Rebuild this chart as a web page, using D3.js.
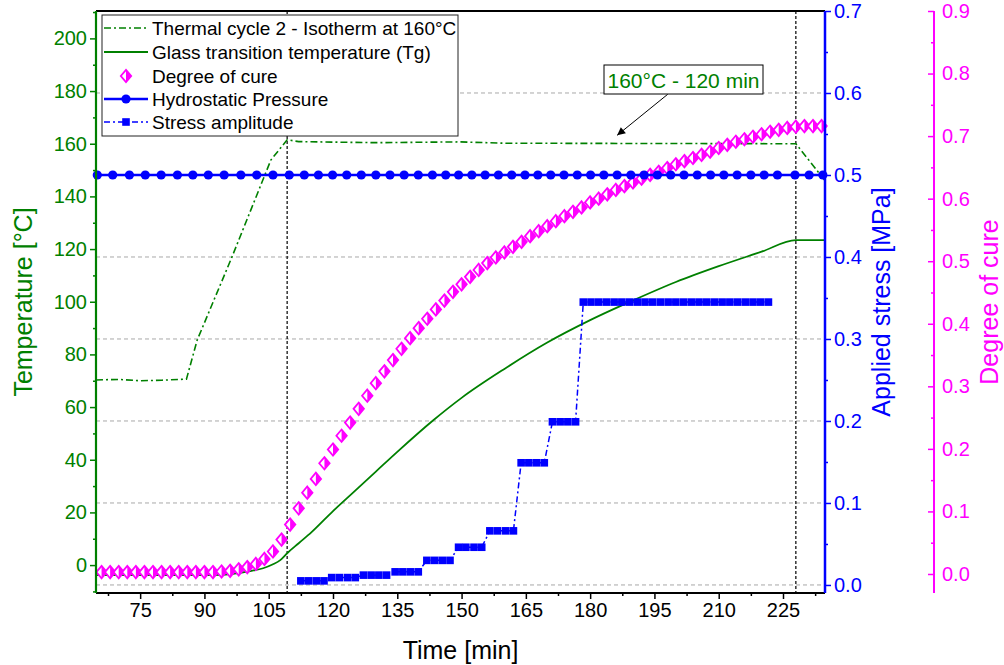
<!DOCTYPE html>
<html><head><meta charset="utf-8">
<script src="https://cdn.jsdelivr.net/npm/d3@7"></script>
<style>
body{margin:0;background:#fff;}
svg{display:block;font-family:"Liberation Sans",Arial,sans-serif;}
</style></head>
<body><svg id="c" width="1004" height="665"></svg>
<script>
// ---------- DATA ----------
const timeTicks = [75, 90, 105, 120, 135, 150, 165, 180, 195, 210, 225];
const tempTicks = [0, 20, 40, 60, 80, 100, 120, 140, 160, 180, 200];
const stressTicks = [0.0, 0.1, 0.2, 0.3, 0.4, 0.5, 0.6, 0.7];
const cureTicks = [0.0, 0.1, 0.2, 0.3, 0.4, 0.5, 0.6, 0.7, 0.8, 0.9];

const thermalTime = [64.7, 70, 75, 80, 85.8, 88.3, 96.4, 105.5, 109.3, 112, 130, 149.6, 160, 190, 228, 234.8];
const thermalTemp = [70.3, 70.5, 70.0, 70.2, 70.6, 85.4, 116.9, 153.8, 161.5, 160.8, 160.4, 160.7, 160.2, 160.1, 160.0, 146];

const tgTime = [64.7, 80, 90, 95, 98, 101, 103.7, 106, 107.7, 109.3, 112, 115, 120, 125, 130, 135, 143.4, 150, 160, 170, 180, 190, 200, 210, 220, 228, 234.8];
const tgTemp = [-3.8, -3.8, -3.8, -3.6, -3.0, -2.2, -1.2, 0.3, 1.9, 4.5, 8.3, 12.5, 20.5, 28, 35.5, 43, 55, 63.5, 74.5, 84.5, 93, 100.5, 107.5, 113.5, 119, 123.4, 123.4];

const cureTime = [66, 68, 70, 72, 74, 76, 78, 80, 82, 84, 86, 88, 90, 92, 94, 96, 98, 100, 102, 104, 106, 108, 110, 112, 114, 116, 118, 120, 122, 124, 126, 128, 130, 132, 134, 136, 138, 140, 142, 144, 146, 148, 150, 152, 154, 156, 158, 160, 162, 164, 166, 168, 170, 172, 174, 176, 178, 180, 182, 184, 186, 188, 190, 192, 194, 196, 198, 200, 202, 204, 206, 208, 210, 212, 214, 216, 218, 220, 222, 224, 226, 228, 230, 232, 234];
const cureValue = [0.003, 0.003, 0.003, 0.003, 0.003, 0.003, 0.003, 0.003, 0.003, 0.003, 0.003, 0.003, 0.003, 0.003, 0.004, 0.005, 0.0075, 0.011, 0.016, 0.024, 0.036, 0.055, 0.079, 0.105, 0.130, 0.152, 0.177, 0.199, 0.221, 0.242, 0.264, 0.285, 0.305, 0.324, 0.342, 0.360, 0.377, 0.393, 0.408, 0.423, 0.437, 0.451, 0.463, 0.475, 0.486, 0.497, 0.506, 0.514, 0.523, 0.531, 0.540, 0.548, 0.556, 0.564, 0.572, 0.579, 0.586, 0.594, 0.600, 0.607, 0.614, 0.620, 0.626, 0.632, 0.638, 0.643, 0.649, 0.655, 0.660, 0.665, 0.670, 0.675, 0.681, 0.686, 0.691, 0.695, 0.699, 0.703, 0.707, 0.710, 0.713, 0.715, 0.716, 0.716, 0.716];

const hydroTime = [65.0, 68.6, 72.5, 76.2, 79.9, 83.7, 87.3, 90.9, 94.6, 98.5, 102.2, 106.0, 109.8, 113.3, 116.6, 119.9, 123.2, 126.6, 130.0, 133.3, 136.6, 139.9, 143.2, 146.3, 149.3, 152.4, 155.5, 158.6, 161.7, 164.8, 167.8, 170.8, 173.9, 177.0, 180.1, 183.2, 186.3, 189.5, 192.6, 195.7, 198.8, 201.9, 205.0, 208.1, 211.2, 214.3, 217.5, 220.6, 223.7, 227.8, 231.1, 234.3];
const hydroValue = [0.5, 0.5, 0.5, 0.5, 0.5, 0.5, 0.5, 0.5, 0.5, 0.5, 0.5, 0.5, 0.5, 0.5, 0.5, 0.5, 0.5, 0.5, 0.5, 0.5, 0.5, 0.5, 0.5, 0.5, 0.5, 0.5, 0.5, 0.5, 0.5, 0.5, 0.5, 0.5, 0.5, 0.5, 0.5, 0.5, 0.5, 0.5, 0.5, 0.5, 0.5, 0.5, 0.5, 0.5, 0.5, 0.5, 0.5, 0.5, 0.5, 0.5, 0.5, 0.5];

const stressTime = [112.5, 114.3, 116.1, 117.9, 119.7, 121.5, 123.4, 125.2, 127.1, 128.9, 130.7, 132.5, 134.5, 136.3, 138.1, 139.9, 141.9, 143.7, 145.5, 147.3, 149.3, 151.0, 152.9, 154.7, 156.6, 158.4, 160.3, 162.1, 163.9, 165.7, 167.5, 169.3, 171.2, 173.0, 174.8, 176.6, 178.4, 180.2, 182.0, 183.8, 185.6, 187.4, 189.2, 191.0, 192.8, 194.6, 196.4, 198.2, 200.0, 201.8, 203.6, 205.4, 207.2, 209.0, 210.8, 212.6, 214.4, 216.2, 218.0, 219.8, 221.6];
const stressValue = [0.005, 0.005, 0.005, 0.005, 0.009, 0.009, 0.009, 0.009, 0.012, 0.012, 0.012, 0.012, 0.016, 0.016, 0.016, 0.016, 0.030, 0.030, 0.030, 0.030, 0.046, 0.046, 0.046, 0.046, 0.066, 0.066, 0.066, 0.066, 0.149, 0.149, 0.149, 0.149, 0.199, 0.199, 0.199, 0.199, 0.345, 0.345, 0.345, 0.345, 0.345, 0.345, 0.345, 0.345, 0.345, 0.345, 0.345, 0.345, 0.345, 0.345, 0.345, 0.345, 0.345, 0.345, 0.345, 0.345, 0.345, 0.345, 0.345, 0.345, 0.345];

const markerTimes = [109.3, 228.0];
const legendLabels = ["Thermal cycle 2 - Isotherm at 160°C", "Glass transition temperature (Tg)", "Degree of cure", "Hydrostatic Pressure", "Stress amplitude"];
const annotationText = "160°C - 120 min";
const annotationTarget = [186.3, 163.2]; // time, temperature the arrow points to

// ---------- LAYOUT ----------
const L = 96, R = 825, T = 11, B = 593;
const GREEN = "#008000", BLUE = "#0000ff", MAG = "#ff00ff";
const svg = d3.select("#c");

const x = d3.scaleLinear().domain([64.7, 234.8]).range([L, R]);
const yT = d3.scaleLinear().domain([-10.6, 210.4]).range([B, T]);
const yS = d3.scaleLinear().domain([-0.0098, 0.7]).range([B, T]);
const yC = d3.scaleLinear().domain([-0.0304, 0.9]).range([B, T]);

// gridlines (at applied stress major ticks)
svg.append("g").selectAll("line").data(stressTicks.filter(d => d < 0.65)).join("line")
  .attr("x1", L).attr("x2", R).attr("y1", d => yS(d)).attr("y2", d => yS(d))
  .attr("stroke", "#a8a8a8").attr("stroke-width", 1).attr("stroke-dasharray", "4,3");

// vertical markers
svg.append("g").selectAll("line").data(markerTimes).join("line")
  .attr("x1", d => x(d)).attr("x2", d => x(d)).attr("y1", T).attr("y2", B)
  .attr("stroke", "#000").attr("stroke-width", 1.2).attr("stroke-dasharray", "3,2");

// thermal cycle
const thermal = thermalTime.map((t, i) => [t, thermalTemp[i]]);
svg.append("path").datum(thermal)
  .attr("d", d3.line().x(d => x(d[0])).y(d => yT(d[1])))
  .attr("fill", "none").attr("stroke", GREEN).attr("stroke-width", 1.6).attr("stroke-dasharray", "7,3,2,3");

// Tg
const tg = tgTime.map((t, i) => [t, tgTemp[i]]);
svg.append("path").datum(tg)
  .attr("d", d3.line().curve(d3.curveMonotoneX).x(d => x(d[0])).y(d => yT(d[1])))
  .attr("fill", "none").attr("stroke", GREEN).attr("stroke-width", 1.8);

// degree of cure markers
function diamond(g, cx, cy) {
  const w = 5.2, h = 6.2;
  g.append("path").attr("d", `M${cx},${cy - h}L${cx + w},${cy}L${cx},${cy + h}L${cx - w},${cy}Z`)
    .attr("fill", "#fff").attr("stroke", MAG).attr("stroke-width", 1.8);
  g.append("path").attr("d", `M${cx},${cy - h}L${cx + w},${cy}L${cx},${cy + h}Z`)
    .attr("fill", MAG);
}
const cureG = svg.append("g");
cureTime.forEach((t, i) => diamond(cureG, x(t), yC(cureValue[i])));

// hydrostatic pressure
const hydro = hydroTime.map((t, i) => [t, hydroValue[i]]);
svg.append("path").datum(hydro)
  .attr("d", d3.line().x(d => x(d[0])).y(d => yS(d[1])))
  .attr("fill", "none").attr("stroke", BLUE).attr("stroke-width", 2.5);
svg.append("g").selectAll("circle").data(hydro).join("circle")
  .attr("cx", d => x(d[0])).attr("cy", d => yS(d[1])).attr("r", 4.6).attr("fill", BLUE);

// stress amplitude
const stress = stressTime.map((t, i) => [t, stressValue[i]]);
svg.append("path").datum(stress)
  .attr("d", d3.line().x(d => x(d[0])).y(d => yS(d[1])))
  .attr("fill", "none").attr("stroke", BLUE).attr("stroke-width", 1.5).attr("stroke-dasharray", "6,3,2,3");
svg.append("g").selectAll("rect").data(stress).join("rect")
  .attr("x", d => x(d[0]) - 3.8).attr("y", d => yS(d[1]) - 3.8).attr("width", 7.6).attr("height", 7.6)
  .attr("fill", BLUE);

// ---------- AXES ----------
const fmt1 = d3.format(".1f");
function styleAxis(g, color, fs) {
  g.selectAll("path.domain").remove();
  g.selectAll("line").attr("stroke", color).attr("stroke-width", 1.5);
  g.selectAll("text").attr("fill", color).style("font-size", fs + "px");
}
// frame top
svg.append("line").attr("x1", L).attr("x2", R).attr("y1", T).attr("y2", T).attr("stroke", "#000").attr("stroke-width", 2);

// bottom
const gx = svg.append("g").attr("transform", `translate(0,${B})`)
  .call(d3.axisBottom(x).tickValues(timeTicks).tickSize(6).tickPadding(4));
styleAxis(gx, "#000", 20);
const gxm = svg.append("g").attr("transform", `translate(0,${B})`)
  .call(d3.axisBottom(x).tickValues(timeTicks.map(d => d - 7.5).concat([232.5])).tickSize(3).tickFormat(""));
styleAxis(gxm, "#000", 20);
svg.append("line").attr("x1", L).attr("x2", R).attr("y1", B).attr("y2", B).attr("stroke", "#000").attr("stroke-width", 2);

// left temperature axis
const gl = svg.append("g").attr("transform", `translate(${L},0)`)
  .call(d3.axisLeft(yT).tickValues(tempTicks).tickSize(6).tickPadding(3));
styleAxis(gl, GREEN, 20);
const glm = svg.append("g").attr("transform", `translate(${L},0)`)
  .call(d3.axisLeft(yT).tickValues(tempTicks.map(d => d + 10).concat([-10])).tickSize(3).tickFormat(""));
styleAxis(glm, GREEN, 20);
svg.append("line").attr("x1", L).attr("x2", L).attr("y1", T).attr("y2", B).attr("stroke", GREEN).attr("stroke-width", 2.2);

// right stress axis
const gr = svg.append("g").attr("transform", `translate(${R},0)`)
  .call(d3.axisRight(yS).tickValues(stressTicks).tickSize(6).tickPadding(3).tickFormat(fmt1));
styleAxis(gr, BLUE, 20);
const grm = svg.append("g").attr("transform", `translate(${R},0)`)
  .call(d3.axisRight(yS).tickValues(stressTicks.slice(0, -1).map(d => d + 0.05)).tickSize(3).tickFormat(""));
styleAxis(grm, BLUE, 20);
svg.append("line").attr("x1", R).attr("x2", R).attr("y1", T).attr("y2", B).attr("stroke", BLUE).attr("stroke-width", 2.5);

// far right cure axis
const CX = 934;
const gc = svg.append("g").attr("transform", `translate(${CX},0)`)
  .call(d3.axisRight(yC).tickValues(cureTicks).tickSize(-6).tickPadding(8).tickFormat(fmt1));
styleAxis(gc, MAG, 20);
const gcm = svg.append("g").attr("transform", `translate(${CX},0)`)
  .call(d3.axisRight(yC).tickValues(cureTicks.slice(0, -1).map(d => d + 0.05)).tickSize(-3).tickFormat(""));
styleAxis(gcm, MAG, 20);
svg.append("line").attr("x1", CX).attr("x2", CX).attr("y1", yC(0.9)).attr("y2", B).attr("stroke", MAG).attr("stroke-width", 2);

// axis titles
const midY = (T + B) / 2;
svg.append("text").attr("transform", `translate(23,${midY}) rotate(-90)`).attr("text-anchor", "middle").attr("dy", "0.35em")
  .attr("fill", GREEN).style("font-size", "25px").text("Temperature [°C]");
svg.append("text").attr("transform", `translate(881,${midY}) rotate(-90)`).attr("text-anchor", "middle").attr("dy", "0.35em")
  .attr("fill", BLUE).style("font-size", "25px").text("Applied stress [MPa]");
svg.append("text").attr("transform", `translate(989,${midY}) rotate(-90)`).attr("text-anchor", "middle").attr("dy", "0.35em")
  .attr("fill", MAG).style("font-size", "25px").text("Degree of cure");
svg.append("text").attr("x", (L + R) / 2).attr("y", 659).attr("text-anchor", "middle")
  .attr("fill", "#000").style("font-size", "25px").text("Time [min]");

// ---------- LEGEND ----------
const lg = svg.append("g");
lg.append("rect").attr("x", 102).attr("y", 15).attr("width", 356).attr("height", 121)
  .attr("fill", "#fff").attr("stroke", "#222").attr("stroke-width", 1);
const rowY = [28, 52, 76, 99, 122];
const sx1 = 104, sx2 = 148, smid = 126;
lg.append("line").attr("x1", sx1).attr("x2", sx2).attr("y1", rowY[0]).attr("y2", rowY[0])
  .attr("stroke", GREEN).attr("stroke-width", 1.6).attr("stroke-dasharray", "7,3,2,3");
lg.append("line").attr("x1", sx1).attr("x2", sx2).attr("y1", rowY[1]).attr("y2", rowY[1])
  .attr("stroke", GREEN).attr("stroke-width", 1.8);
diamond(lg, smid, rowY[2]);
lg.append("line").attr("x1", sx1).attr("x2", sx2).attr("y1", rowY[3]).attr("y2", rowY[3])
  .attr("stroke", BLUE).attr("stroke-width", 2.5);
lg.append("circle").attr("cx", smid).attr("cy", rowY[3]).attr("r", 4.6).attr("fill", BLUE);
lg.append("line").attr("x1", sx1).attr("x2", sx2).attr("y1", rowY[4]).attr("y2", rowY[4])
  .attr("stroke", BLUE).attr("stroke-width", 1.5).attr("stroke-dasharray", "6,3,2,3");
lg.append("rect").attr("x", smid - 3.8).attr("y", rowY[4] - 3.8).attr("width", 7.6).attr("height", 7.6).attr("fill", BLUE);
lg.selectAll("text.l").data(legendLabels).join("text").attr("class", "l")
  .attr("x", 152).attr("y", (d, i) => rowY[i]).attr("dy", "0.35em")
  .attr("fill", "#000").style("font-size", "19px").text(d => d);

// ---------- ANNOTATION ----------
svg.append("defs").append("marker").attr("id", "ah").attr("viewBox", "0 0 10 10")
  .attr("refX", 10).attr("refY", 5).attr("markerWidth", 11).attr("markerHeight", 8)
  .attr("markerUnits", "userSpaceOnUse").attr("orient", "auto")
  .append("path").attr("d", "M0,0L10,5L0,10Z").attr("fill", "#000");
svg.append("line").attr("x1", 667.7).attr("y1", 94.3)
  .attr("x2", x(annotationTarget[0])).attr("y2", yT(annotationTarget[1]))
  .attr("stroke", "#000").attr("stroke-width", 1).attr("marker-end", "url(#ah)");
svg.append("rect").attr("x", 604).attr("y", 65).attr("width", 159).attr("height", 29)
  .attr("fill", "#fff").attr("stroke", "#000").attr("stroke-width", 1);
svg.append("text").attr("x", 683.5).attr("y", 80).attr("dy", "0.36em").attr("text-anchor", "middle")
  .attr("fill", GREEN).style("font-size", "21px").text(annotationText);
</script>
</body></html>
